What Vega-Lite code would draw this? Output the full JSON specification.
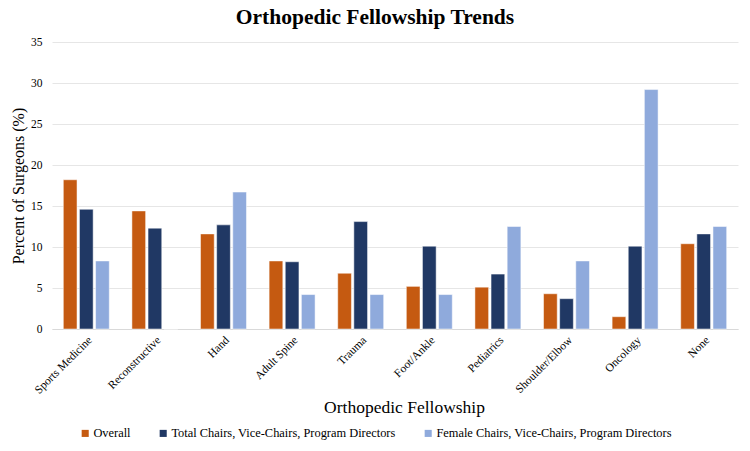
{
  "$schema": "https://vega.github.io/schema/vega-lite/v6.json",
  "autosize": {"type": "none"},
  "width": 686,
  "height": 287,
  "padding": {"left": 52, "top": 42, "right": 12, "bottom": 122},
  "background": "white",
  "title": {
    "text": "Orthopedic Fellowship Trends",
    "font": "Liberation Serif",
    "fontSize": 21.5,
    "fontWeight": "bold",
    "color": "#000000",
    "anchor": "middle",
    "dx": -20,
    "offset": 8
  },
  "data": {
    "values": [
      {"fellowship": "Sports Medicine", "group": "Overall", "value": 18.2},
      {"fellowship": "Sports Medicine", "group": "Total Chairs, Vice-Chairs, Program Directors", "value": 14.6},
      {"fellowship": "Sports Medicine", "group": "Female Chairs, Vice-Chairs, Program Directors", "value": 8.3},
      {"fellowship": "Reconstructive", "group": "Overall", "value": 14.4},
      {"fellowship": "Reconstructive", "group": "Total Chairs, Vice-Chairs, Program Directors", "value": 12.3},
      {"fellowship": "Reconstructive", "group": "Female Chairs, Vice-Chairs, Program Directors", "value": 0},
      {"fellowship": "Hand", "group": "Overall", "value": 11.6},
      {"fellowship": "Hand", "group": "Total Chairs, Vice-Chairs, Program Directors", "value": 12.7},
      {"fellowship": "Hand", "group": "Female Chairs, Vice-Chairs, Program Directors", "value": 16.7},
      {"fellowship": "Adult Spine", "group": "Overall", "value": 8.3},
      {"fellowship": "Adult Spine", "group": "Total Chairs, Vice-Chairs, Program Directors", "value": 8.2},
      {"fellowship": "Adult Spine", "group": "Female Chairs, Vice-Chairs, Program Directors", "value": 4.2},
      {"fellowship": "Trauma", "group": "Overall", "value": 6.8},
      {"fellowship": "Trauma", "group": "Total Chairs, Vice-Chairs, Program Directors", "value": 13.1},
      {"fellowship": "Trauma", "group": "Female Chairs, Vice-Chairs, Program Directors", "value": 4.2},
      {"fellowship": "Foot/Ankle", "group": "Overall", "value": 5.2},
      {"fellowship": "Foot/Ankle", "group": "Total Chairs, Vice-Chairs, Program Directors", "value": 10.1},
      {"fellowship": "Foot/Ankle", "group": "Female Chairs, Vice-Chairs, Program Directors", "value": 4.2},
      {"fellowship": "Pediatrics", "group": "Overall", "value": 5.1},
      {"fellowship": "Pediatrics", "group": "Total Chairs, Vice-Chairs, Program Directors", "value": 6.7},
      {"fellowship": "Pediatrics", "group": "Female Chairs, Vice-Chairs, Program Directors", "value": 12.5},
      {"fellowship": "Shoulder/Elbow", "group": "Overall", "value": 4.3},
      {"fellowship": "Shoulder/Elbow", "group": "Total Chairs, Vice-Chairs, Program Directors", "value": 3.7},
      {"fellowship": "Shoulder/Elbow", "group": "Female Chairs, Vice-Chairs, Program Directors", "value": 8.3},
      {"fellowship": "Oncology", "group": "Overall", "value": 1.5},
      {"fellowship": "Oncology", "group": "Total Chairs, Vice-Chairs, Program Directors", "value": 10.1},
      {"fellowship": "Oncology", "group": "Female Chairs, Vice-Chairs, Program Directors", "value": 29.2},
      {"fellowship": "None", "group": "Overall", "value": 10.4},
      {"fellowship": "None", "group": "Total Chairs, Vice-Chairs, Program Directors", "value": 11.6},
      {"fellowship": "None", "group": "Female Chairs, Vice-Chairs, Program Directors", "value": 12.5}
    ]
  },
  "mark": {"type": "bar", "stroke": "white", "strokeWidth": 0.5},
  "encoding": {
    "x": {
      "field": "fellowship",
      "type": "nominal",
      "sort": null,
      "scale": {"paddingInner": 0.33, "paddingOuter": 0.165},
      "axis": {
        "title": "Orthopedic Fellowship",
        "titleFont": "Liberation Serif",
        "titleFontSize": 17.5,
        "titleFontWeight": "normal",
        "titleColor": "#000000",
        "titlePadding": 3,
        "titleX": 352,
        "labelAngle": -45,
        "labelFont": "Liberation Serif",
        "labelFontSize": 11.5,
        "labelColor": "#000000",
        "labelPadding": 5,
        "ticks": false,
        "domain": true,
        "domainColor": "#D9D9D9",
        "grid": false
      }
    },
    "xOffset": {
      "field": "group",
      "type": "nominal",
      "sort": ["Overall", "Total Chairs, Vice-Chairs, Program Directors", "Female Chairs, Vice-Chairs, Program Directors"],
      "scale": {"paddingInner": 0.15, "paddingOuter": 0}
    },
    "y": {
      "field": "value",
      "type": "quantitative",
      "scale": {"domain": [0, 35]},
      "axis": {
        "title": "Percent of Surgeons (%)",
        "titleFont": "Liberation Serif",
        "titleFontSize": 16,
        "titleFontWeight": "normal",
        "titleColor": "#000000",
        "titlePadding": 4,
        "values": [0, 5, 10, 15, 20, 25, 30, 35],
        "labelFont": "Liberation Serif",
        "labelFontSize": 11.5,
        "labelColor": "#000000",
        "labelPadding": 10,
        "ticks": false,
        "domain": false,
        "grid": true,
        "gridColor": "#E6E6E6",
        "gridWidth": 1
      }
    },
    "color": {
      "field": "group",
      "type": "nominal",
      "sort": ["Overall", "Total Chairs, Vice-Chairs, Program Directors", "Female Chairs, Vice-Chairs, Program Directors"],
      "scale": {
        "domain": ["Overall", "Total Chairs, Vice-Chairs, Program Directors", "Female Chairs, Vice-Chairs, Program Directors"],
        "range": ["#C55A11", "#203864", "#8FAADC"]
      },
      "legend": {
        "title": null,
        "orient": "none",
        "legendX": 27,
        "legendY": 385,
        "direction": "horizontal",
        "symbolType": "square",
        "symbolSize": 50,
        "symbolStrokeWidth": 0,
        "labelFont": "Liberation Serif",
        "labelFontSize": 12.4,
        "labelColor": "#000000",
        "labelLimit": 0,
        "labelOffset": 2,
        "columnPadding": 26
      }
    }
  },
  "config": {
    "view": {"stroke": null}
  }
}
